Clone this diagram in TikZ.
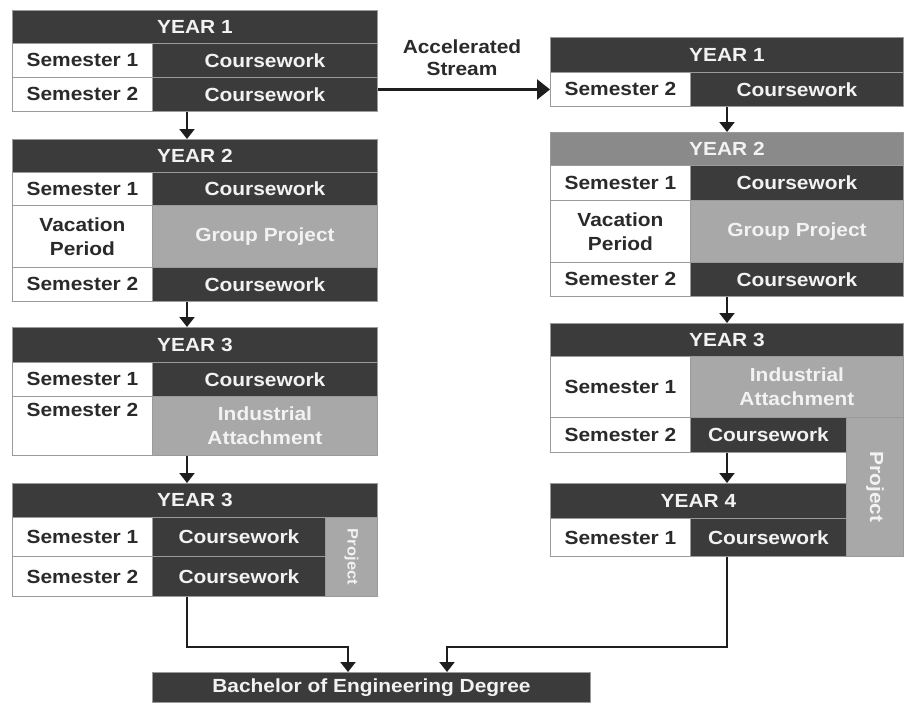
\documentclass[tikz,border=0pt]{standalone}
\usepackage{fontspec}
\setmainfont[FakeStretch=1.1]{Liberation Sans}
\usetikzlibrary{arrows.meta}
\definecolor{dk}{HTML}{3B3B3B}
\definecolor{gy}{HTML}{A8A8A8}
\definecolor{ghd}{HTML}{8A8A8A}
\definecolor{lt}{HTML}{F2F2F2}
\definecolor{txt}{HTML}{2A2A2A}
\definecolor{cellline}{HTML}{9A9A9A}
\definecolor{ln}{HTML}{1E1E1E}
\tikzset{
  cell/.style={draw=cellline, line width=0.9pt, inner sep=0pt, anchor=north west,
    font=\bfseries\fontsize{19}{24}\selectfont, align=center},
  wc/.style={cell, fill=white, text=txt},
  dc/.style={cell, fill=dk, text=lt},
  gc/.style={cell, fill=gy, text=lt},
  gh/.style={cell, fill=ghd, text=lt},
  arr/.style={draw=ln, line width=2.2pt, -{Triangle[length=10pt,width=15pt]}},
  arrbig/.style={draw=ln, line width=2.4pt, -{Triangle[length=13pt,width=20pt]}},
  lbl/.style={font=\bfseries\fontsize{19}{22}\selectfont, text=txt, align=center}
}
\newcommand\cellnode[7]{%
  \pgfmathsetmacro\cellW{#5-#3}\pgfmathsetmacro\cellH{#6-#4}%
  \node[#1, minimum width=\cellW pt, minimum height=\cellH pt] (#2) at (#3,-#4) {#7};}
\begin{document}
\begin{tikzpicture}[x=1pt,y=1pt]
\useasboundingbox (0,0) rectangle (904,-702);
% ---------- left column ----------
\cellnode{dc}{lYa}{12}{10}{377}{43}{YEAR 1}
\cellnode{wc}{lYaSa}{12}{43}{152}{77}{Semester 1}
\cellnode{dc}{lYaSaC}{152}{43}{377}{77}{Coursework}
\cellnode{wc}{lYaSb}{12}{77}{152}{111}{Semester 2}
\cellnode{dc}{lYaSbC}{152}{77}{377}{111}{Coursework}
%
\cellnode{dc}{lYb}{12}{139}{377}{172}{YEAR 2}
\cellnode{wc}{lYbSa}{12}{172}{152}{205}{Semester 1}
\cellnode{dc}{lYbSaC}{152}{172}{377}{205}{Coursework}
\cellnode{wc}{lYbV}{12}{205}{152}{267}{Vacation\\Period}
\cellnode{gc}{lYbVG}{152}{205}{377}{267}{Group Project}
\cellnode{wc}{lYbSb}{12}{267}{152}{301}{Semester 2}
\cellnode{dc}{lYbSbC}{152}{267}{377}{301}{Coursework}
%
\cellnode{dc}{lYc}{12}{327}{377}{362}{YEAR 3}
\cellnode{wc}{lYcSa}{12}{362}{152}{396}{Semester 1}
\cellnode{dc}{lYcSaC}{152}{362}{377}{396}{Coursework}
\cellnode{wc}{lYcSb}{12}{396}{152}{455}{Semester 2\\\strut}
\cellnode{gc}{lYcSbG}{152}{396}{377}{455}{Industrial\\Attachment}
%
\cellnode{dc}{lYd}{12}{483}{377}{517}{YEAR 3}
\cellnode{wc}{lYdSa}{12}{517}{152}{556}{Semester 1}
\cellnode{dc}{lYdSaC}{152}{517}{325}{556}{Coursework}
\cellnode{wc}{lYdSb}{12}{556}{152}{596}{Semester 2}
\cellnode{dc}{lYdSbC}{152}{556}{325}{596}{Coursework}
\cellnode{gc}{lYdP}{325}{517}{377}{596}{\rotatebox{-90}{\fontsize{15}{18}\selectfont Project}}
% ---------- right column ----------
\cellnode{dc}{rYa}{550}{37}{903}{72}{YEAR 1}
\cellnode{wc}{rYaSb}{550}{72}{690}{106}{Semester 2}
\cellnode{dc}{rYaSbC}{690}{72}{903}{106}{Coursework}
%
\cellnode{gh}{rYb}{550}{132}{903}{165}{YEAR 2}
\cellnode{wc}{rYbSa}{550}{165}{690}{200}{Semester 1}
\cellnode{dc}{rYbSaC}{690}{165}{903}{200}{Coursework}
\cellnode{wc}{rYbV}{550}{200}{690}{262}{Vacation\\Period}
\cellnode{gc}{rYbVG}{690}{200}{903}{262}{Group Project}
\cellnode{wc}{rYbSb}{550}{262}{690}{296}{Semester 2}
\cellnode{dc}{rYbSbC}{690}{262}{903}{296}{Coursework}
%
\cellnode{dc}{rYc}{550}{323}{903}{356}{YEAR 3}
\cellnode{wc}{rYcSa}{550}{356}{690}{417}{Semester 1}
\cellnode{gc}{rYcSaG}{690}{356}{903}{417}{Industrial\\Attachment}
\cellnode{wc}{rYcSb}{550}{417}{690}{452}{Semester 2}
\cellnode{dc}{rYcSbC}{690}{417}{846}{452}{Coursework}
\cellnode{gc}{rYcP}{846}{417}{903}{556}{\rotatebox{-90}{Project}}
%
\cellnode{dc}{rYd}{550}{483}{846}{518}{YEAR 4}
\cellnode{wc}{rYdSa}{550}{518}{690}{556}{Semester 1}
\cellnode{dc}{rYdSaC}{690}{518}{846}{556}{Coursework}
% ---------- degree ----------
\cellnode{dc}{deg}{152}{672}{590}{702}{Bachelor of Engineering Degree}
% ---------- label ----------
\node[lbl] (acc) at (462,-58) {Accelerated\\Stream};
% ---------- connectors ----------
\draw[arr] ([xshift=35pt]lYaSbC.south west) -- ([xshift=35pt]lYaSbC.south west |- lYb.north);
\draw[arr] ([xshift=35pt]lYbSbC.south west) -- ([xshift=35pt]lYbSbC.south west |- lYc.north);
\draw[arr] ([xshift=35pt]lYcSbG.south west) -- ([xshift=35pt]lYcSbG.south west |- lYd.north);
\draw[arrbig] (lYaSbC.east |- rYaSb.west) -- (rYaSb.west);
\draw[arr] ([xshift=37pt]rYaSbC.south west) -- ([xshift=37pt]rYaSbC.south west |- rYb.north);
\draw[arr] ([xshift=37pt]rYbSbC.south west) -- ([xshift=37pt]rYbSbC.south west |- rYc.north);
\draw[arr] ([xshift=37pt]rYcSbC.south west) -- ([xshift=37pt]rYcSbC.south west |- rYd.north);
\coordinate (mL) at (348,-647);
\coordinate (mR) at (447,-647);
\draw[arr] ([xshift=35pt]lYdSbC.south west) |- (mL) -- (mL |- deg.north);
\draw[arr] ([xshift=37pt]rYdSaC.south west) |- (mR) -- (mR |- deg.north);
\end{tikzpicture}
\end{document}
